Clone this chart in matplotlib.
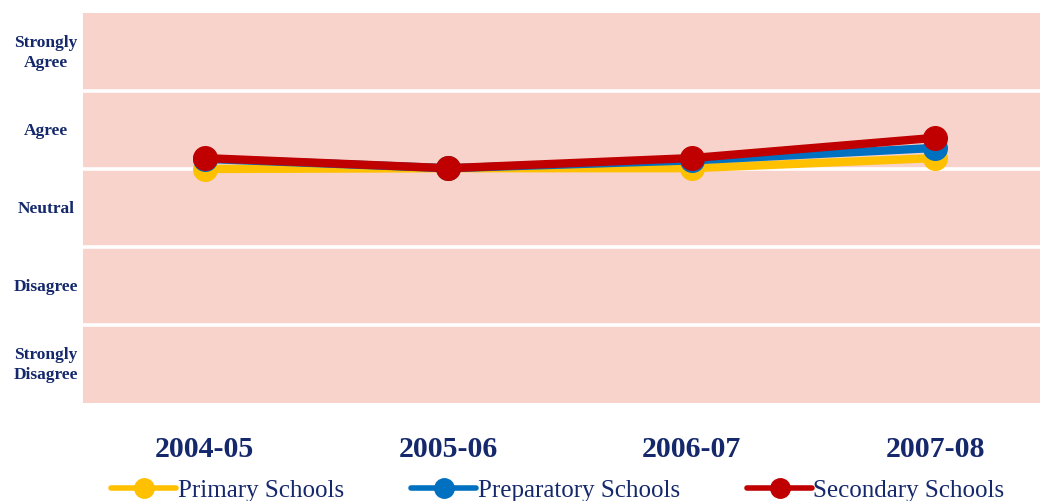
import matplotlib
matplotlib.use("Agg")
import matplotlib.pyplot as plt
from matplotlib.transforms import blended_transform_factory

years = ["2004-05", "2005-06", "2006-07", "2007-08"]
levels = ["Strongly\nDisagree", "Disagree", "Neutral", "Agree", "Strongly\nAgree"]
primary = [3.00, 3.01, 3.01, 3.14]
preparatory = [3.13, 3.01, 3.11, 3.27]
secondary = [3.14, 3.01, 3.14, 3.40]

navy = "#14286B"
pink = "#F8D3CB"
series = [
    ("Primary Schools", primary, "#FFC000"),
    ("Preparatory Schools", preparatory, "#0070C0"),
    ("Secondary Schools", secondary, "#C00000"),
]

fig = plt.figure(figsize=(10.43, 5.02), dpi=100)
ax = fig.add_axes([83/1043, 1-404/502, (1040-83)/1043, (404-14)/502])
ax.set_facecolor(pink)
for s in ax.spines.values():
    s.set_visible(False)
ax.set_ylim(0, 5)
ax.set_xlim(-0.5, 3.43)
for yv in range(1, 5):
    ax.axhline(yv, color="white", lw=2.6, zorder=1)

x = list(range(len(years)))
handles = []
for name, vals, col in series:
    h, = ax.plot(x, vals, color=col, lw=6, marker="o", ms=17, zorder=3,
                 solid_capstyle="round", label=name)
    handles.append(h)

ax.set_yticks([])
ax.set_xticks(x)
ax.set_xticklabels(years, fontsize=21.5, fontweight="bold", color=navy,
                   family="Liberation Serif")
ax.tick_params(axis="x", length=0, pad=23)

tr = blended_transform_factory(fig.transFigure, ax.transData)
for i, lab in enumerate(levels):
    ax.text(46/1043, i + 0.5, lab, transform=tr, ha="center", va="center",
            fontsize=12.5, fontweight="bold", color=navy,
            family="Liberation Serif", linespacing=1.3)

leg = fig.legend(handles=handles, loc="center", bbox_to_anchor=(0.535, 1-491/502),
                 ncol=3, frameon=False, handlelength=2.6, columnspacing=2.7,
                 handletextpad=0.05, prop={"family": "Liberation Serif", "size": 18})
for t in leg.get_texts():
    t.set_color(navy)
for lh in leg.get_lines():
    lh.set_markersize(14)
    lh.set_linewidth(4)

fig.savefig("out.png", dpi=100)
